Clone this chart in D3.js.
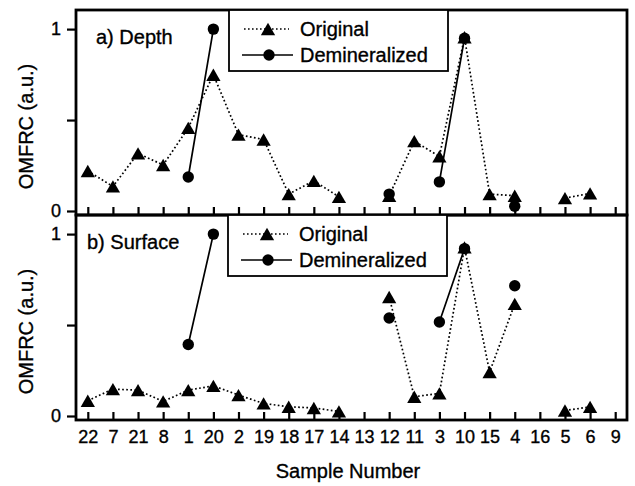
<!DOCTYPE html>
<html>
<head>
<meta charset="utf-8">
<script src="https://cdn.jsdelivr.net/npm/d3@7"></script>
<style>
  body { margin: 0; background: #fff; }
  text { font-family: "Liberation Sans", Arial, Helvetica, sans-serif; fill: #000; stroke: #000; stroke-width: 0.35px; }
</style>
</head>
<body>
<div class="chart"></div>
<script>
var categories = ["22","7","21","8","1","20","2","19","18","17","14","13","12","11","3","10","15","4","16","5","6","9"];

var depthOriginal = [0.22,0.135,0.317,0.253,0.457,0.749,0.42,0.393,0.093,0.166,0.078,null,0.084,0.384,0.30,0.955,0.093,0.084,null,0.071,0.097,null];
var depthDemin    = [null,null,null,null,0.187,1.0,null,null,null,null,null,null,0.093,null,0.16,0.95,null,0.026,null,null,null,null];

var surfaceOriginal = [0.084,0.148,0.142,0.08,0.142,0.166,0.115,0.069,0.051,0.044,0.025,null,0.654,0.106,0.124,0.927,0.242,0.616,null,0.03,0.05,null];
var surfaceDemin    = [null,null,null,null,0.393,1.0,null,null,null,null,null,null,0.539,null,0.517,0.92,null,0.716,null,null,null,null];

var yTicks = [0, 0.5, 1];
var yTickLabels = ["0", "", "1"];

var panels = [
  {label: "a) Depth",   orig: depthOriginal,   demin: depthDemin,   top: 10,  labelX: 96, legX: 229},
  {label: "b) Surface", orig: surfaceOriginal, demin: surfaceDemin, top: 215, labelX: 87, legX: 228}
];

var width = 635,
    height = 486,
    left = 76,
    right = 627,
    panelH = 205;

var svg = d3.select(".chart").append("svg")
    .attr("width", width)
    .attr("height", height);

var x = d3.scalePoint()
    .domain(categories)
    .range([left, right])
    .padding(0.47);

// triangle centred on its bounding box, like the original plot
var tri = {
  draw: function(ctx, size) {
    var s = Math.sqrt(size * 4 / Math.sqrt(3));
    var h = s * Math.sqrt(3) / 2;
    ctx.moveTo(0, -h / 2);
    ctx.lineTo(s / 2, h / 2);
    ctx.lineTo(-s / 2, h / 2);
    ctx.closePath();
  }
};
var triPath = d3.symbol().type(tri).size(88)();

panels.forEach(function(p) {
  var y = d3.scaleLinear()
      .domain([-0.022, 1.105])
      .range([p.top + panelH, p.top]);

  var g = svg.append("g");

  var line = d3.line()
      .defined(function(d) { return d != null; })
      .x(function(d, i) { return x(categories[i]); })
      .y(function(d) { return y(d); });

  g.append("path")
      .datum(p.orig)
      .attr("d", line)
      .attr("fill", "none")
      .attr("stroke", "#000")
      .attr("stroke-width", 1.7)
      .attr("stroke-dasharray", "1.7 2.4");

  g.append("path")
      .datum(p.demin)
      .attr("d", line)
      .attr("fill", "none")
      .attr("stroke", "#000")
      .attr("stroke-width", 1.7);

  g.selectAll(".tri")
      .data(p.orig.map(function(v, i) { return {v: v, c: categories[i]}; })
        .filter(function(d) { return d.v != null; }))
      .enter()
      .append("path")
      .attr("class", "tri")
      .attr("d", triPath)
      .attr("transform", function(d) { return "translate(" + x(d.c) + "," + y(d.v) + ")"; })
      .attr("fill", "#000");

  g.selectAll(".dot")
      .data(p.demin.map(function(v, i) { return {v: v, c: categories[i]}; })
        .filter(function(d) { return d.v != null; }))
      .enter()
      .append("circle")
      .attr("class", "dot")
      .attr("cx", function(d) { return x(d.c); })
      .attr("cy", function(d) { return y(d.v); })
      .attr("r", 5.7)
      .attr("fill", "#000");

  // frame
  g.append("rect")
      .attr("x", left)
      .attr("y", p.top)
      .attr("width", right - left)
      .attr("height", panelH)
      .attr("fill", "none")
      .attr("stroke", "#000")
      .attr("stroke-width", 2.8);

  // x ticks, pointing inward
  g.append("g")
      .attr("transform", "translate(0," + (p.top + panelH) + ")")
      .call(d3.axisTop(x).tickSize(8).tickFormat(""))
      .call(function(a) {
        a.select(".domain").remove();
        a.selectAll("line").attr("stroke-width", 2.2);
      });

  // y axis
  g.append("g")
      .attr("transform", "translate(" + left + ",0)")
      .call(d3.axisLeft(y).tickValues(yTicks).tickSize(9).tickPadding(6)
        .tickFormat(function(d, i) { return yTickLabels[i]; }))
      .call(function(a) {
        a.select(".domain").remove();
        a.selectAll("line").attr("stroke-width", 2.2);
        a.selectAll("text").attr("font-size", 18).attr("font-family", null);
      });

  g.append("text")
      .attr("x", p.labelX)
      .attr("y", p.top + 34)
      .attr("font-size", 20)
      .text(p.label);

  g.append("text")
      .attr("transform", "translate(33," + (p.top + panelH / 2 + 14) + ") rotate(-90)")
      .attr("text-anchor", "middle")
      .attr("font-size", 20)
      .text("OMFRC (a.u.)");

  // legend
  var lg = g.append("g").attr("transform", "translate(" + p.legX + "," + p.top + ")");
  lg.append("rect")
      .attr("width", 219)
      .attr("height", 61)
      .attr("fill", "#fff")
      .attr("stroke", "#000")
      .attr("stroke-width", 1.8);

  lg.append("line")
      .attr("x1", 15).attr("x2", 60).attr("y1", 19).attr("y2", 19)
      .attr("stroke", "#000")
      .attr("stroke-width", 1.4)
      .attr("stroke-dasharray", "1.6 2.4");
  lg.append("path")
      .attr("d", triPath)
      .attr("transform", "translate(39,19)");
  lg.append("line")
      .attr("x1", 13).attr("x2", 64).attr("y1", 45).attr("y2", 45)
      .attr("stroke", "#000")
      .attr("stroke-width", 1.7);
  lg.append("circle")
      .attr("cx", 40).attr("cy", 45).attr("r", 5.7);

  lg.append("text").attr("x", 71).attr("y", 26).attr("font-size", 20).text("Original");
  lg.append("text").attr("x", 71).attr("y", 52).attr("font-size", 20).text("Demineralized");
});

// category labels under the lower panel
svg.append("g")
    .attr("transform", "translate(0,420)")
    .call(d3.axisBottom(x).tickSize(0).tickPadding(10))
    .call(function(a) {
      a.select(".domain").remove();
      a.selectAll("text").attr("font-size", 18).attr("font-family", null);
    });

svg.append("text")
    .attr("x", 348)
    .attr("y", 478)
    .attr("text-anchor", "middle")
    .attr("font-size", 20)
    .text("Sample Number");
</script>
</body>
</html>
